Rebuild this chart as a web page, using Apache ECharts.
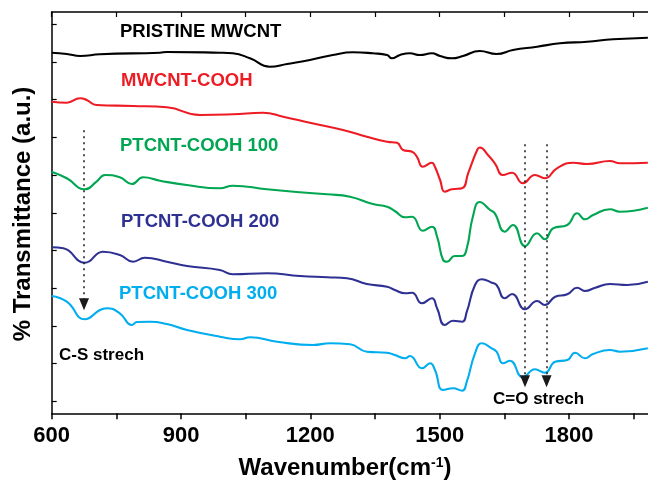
<!DOCTYPE html>
<html><head><meta charset="utf-8">
<script src="https://cdn.jsdelivr.net/npm/echarts@6/dist/echarts.min.js"></script>
<style>html,body{margin:0;padding:0;background:#fff}#c{width:648px;height:484px}</style>
</head><body><div id="c"></div>
<script>
// ---- data (wavenumber in cm-1, transmittance in arbitrary units, offset traces) ----
const seriesNames = ['PRISTINE MWCNT', 'MWCNT-COOH', 'PTCNT-COOH 100', 'PTCNT-COOH 200', 'PTCNT-COOH 300'];
const seriesColors = ['#000000', '#ed1c24', '#00a651', '#2e3192', '#00aeef'];

const wnPristine = [600,635,666,712,851,867,990,1020,1060,1106,1146,1199,1252,1299,1345,1378,1389,1408,1431,1454,1482,1501,1528,1554,1593,1632,1670,1726,1779,1842,1902,1983];
const tPristine  = [360.6,359.3,357.3,359,360.6,361.3,360.6,360,355,346.6,349.3,353.3,358.3,361,360,358.3,355,358.3,360,358.3,360,357.3,355,357.3,362.3,359.3,363.3,366.6,370,371.6,374,375.6];

const wnCooh = [600,635,666,681,704,789,867,944,1020,1090,1137,1199,1276,1331,1378,1401,1415,1436,1447,1461,1482,1489,1501,1512,1528,1552,1566,1587,1593,1612,1628,1647,1668,1693,1721,1744,1772,1810,1842,1895,1918,1983];
const tCooh  = [311.6,310.6,315,313.3,308.3,307.3,306,298.3,299,300.6,296.6,290.6,283.3,276.6,271.6,270.6,263.3,261.6,256.6,246.6,250.6,246.6,233.3,221.6,224,225,240,263.3,265.8,258.3,250,238.3,240.6,230,238.3,235,245,250.6,249.3,252.3,250,250.6];

const wnPt100 = [600,635,677,704,724,758,786,812,851,913,990,1020,1099,1176,1239,1292,1345,1378,1396,1420,1436,1461,1482,1494,1508,1517,1535,1552,1563,1577,1593,1617,1628,1651,1670,1698,1726,1744,1763,1796,1819,1837,1856,1895,1918,1983];
const tPt100  = [241.6,235,224,231.6,238.3,236,229.3,236,232.6,228.3,225,227.6,224,221,219,216.6,209.3,206.6,202.3,196,196.6,182.6,186.6,176.6,153.3,151.6,157.3,157.3,165,196.6,211.3,203.3,200,181.6,188.3,167.3,180,174,185,188.3,200,194,198.3,204,201.6,205.6];

const wnPt200 = [600,627,677,719,758,789,816,867,914,990,1020,1099,1176,1239,1285,1331,1378,1396,1420,1436,1459,1482,1494,1512,1531,1552,1563,1582,1598,1621,1632,1651,1668,1698,1726,1744,1768,1796,1819,1837,1861,1895,1935,1983];
const tPt200  = [166,165,150.6,161.6,158.3,151.6,155.6,151.6,147.3,143.3,139,140,137.3,136,135,129.3,126.6,123.3,120,120.6,110,115,105,88.3,92.6,91.6,101.6,128.3,134,130.6,128.3,115,119.3,104,112.3,108.3,116.6,119,125.6,122.3,125.6,129.3,128.3,131.6];

const wnPt300 = [600,635,677,712,728,758,786,798,828,867,914,990,1037,1060,1123,1206,1246,1292,1331,1378,1396,1420,1431,1459,1478,1489,1508,1531,1552,1563,1582,1598,1621,1632,1647,1663,1693,1721,1744,1768,1796,1814,1837,1856,1895,1918,1983];
const tPt300  = [117.3,111.6,94,103.3,105,100,88.3,91.3,91.6,89.3,83.3,76.6,74,76,71.6,68.3,70,69,61.6,60.6,58.3,55,57.3,45,50,43.3,23.3,25,22.6,31.6,60,70,65,61.6,50,52.6,36,44,40.6,51.6,53.3,60.6,55,59.3,63.3,61.6,65];

const xTickLabels = [600, 900, 1200, 1500, 1800];
const yTickValues = [12,49.7,87.4,125.1,162.8,200.5,238.2,275.9,313.6,351.3,389];

// annotation positions (data coordinates)
const csBand = 675;           // C-S stretch
const coBands = [1698, 1748]; // C=O stretch

const wnList = [wnPristine, wnCooh, wnPt100, wnPt200, wnPt300];
const tList = [tPristine, tCooh, tPt100, tPt200, tPt300];

const FONT = 'Arial, "Liberation Sans", Helvetica, sans-serif';
const chart = echarts.init(document.getElementById('c'), null, {renderer: 'canvas'});

const series = seriesNames.map((name, i) => ({
  name: name,
  type: 'line',
  data: wnList[i].map((w, k) => [w, tList[i][k]]),
  showSymbol: false,
  smooth: 0.5,
  lineStyle: {color: seriesColors[i], width: 2.1},
  itemStyle: {color: seriesColors[i]},
  silent: true,
  z: 3
}));

const dotted = {color: '#1a1a1a', type: [2, 4], width: 1.5};
series[0].markLine = {
  silent: true,
  symbolSize: [10, 12],
  label: {show: false},
  lineStyle: dotted,
  itemStyle: {color: '#000'},
  emphasis: {disabled: true},
  data: [
    [{coord: [csBand, 283], symbol: 'none'}, {coord: [csBand, 109], symbol: 'triangle'}],
    [{coord: [coBands[0], 269], symbol: 'none'}, {coord: [coBands[0], 32], symbol: 'triangle'}],
    [{coord: [coBands[1], 269], symbol: 'none'}, {coord: [coBands[1], 32], symbol: 'triangle'}]
  ]
};

const labelPos = [[120, 33], [121, 82], [120, 147], [121, 223], [119, 295]];
const graphics = seriesNames.map((n, i) => ({
  type: 'text', left: labelPos[i][0], top: labelPos[i][1] - 11, silent: true,
  style: {text: n, fill: seriesColors[i], font: 'bold 18.5px ' + FONT}
}));
graphics.push({type: 'text', left: 59, top: 347, silent: true,
  style: {text: 'C-S strech', fill: '#000', font: 'bold 17px ' + FONT}});
graphics.push({type: 'text', left: 493, top: 391, silent: true,
  style: {text: 'C=O strech', fill: '#000', font: 'bold 17px ' + FONT}});
graphics.push({type: 'text', x: 345, y: 468, silent: true,
  style: {text: 'Wavenumber(cm{s|-1})', fill: '#000', align: 'center', verticalAlign: 'middle',
    font: 'bold 24px ' + FONT,
    rich: {s: {fontSize: 14, fontWeight: 'bold', fontFamily: FONT, verticalAlign: 'top', fill: '#000'}}}});
graphics.push({type: 'text', x: 23, y: 214, rotation: Math.PI / 2, silent: true,
  style: {text: '% Transmittance (a.u.)', fill: '#000', align: 'center', verticalAlign: 'middle',
    font: 'bold 24px ' + FONT}});

chart.setOption({
  animation: false,
  backgroundColor: '#fff',
  grid: {left: 51.7, top: 12, width: 603.5, height: 401.3, containLabel: false, outerBoundsMode: 'none'},
  xAxis: [{
    type: 'value', position: 'bottom', min: 600, max: 2000, interval: 150,
    axisLine: {show: true, lineStyle: {color: '#000', width: 1.5}},
    axisTick: {show: true, inside: false, length: 6, lineStyle: {color: '#000', width: 1.5}},
    axisLabel: {show: true, margin: 12, color: '#000', fontSize: 22, fontWeight: 'bold', fontFamily: FONT,
      formatter: v => (xTickLabels.indexOf(v) >= 0 ? String(v) : '')},
    splitLine: {show: false}
  }, {
    type: 'value', position: 'top', min: 600, max: 2000, interval: 150,
    axisLine: {show: true, lineStyle: {color: '#000', width: 1.5}},
    axisTick: {show: true, inside: true, length: 5, lineStyle: {color: '#000', width: 1.2}},
    axisLabel: {show: false},
    splitLine: {show: false}
  }],
  yAxis: {
    type: 'value', min: 0, max: 401.3,
    axisLine: {show: true, lineStyle: {color: '#000', width: 1.5}},
    axisTick: {show: true, inside: true, length: 5, customValues: yTickValues, lineStyle: {color: '#000', width: 1.2}},
    axisLabel: {show: false},
    splitLine: {show: false}
  },
  series: series,
  graphic: graphics
});
</script>
</body></html>
